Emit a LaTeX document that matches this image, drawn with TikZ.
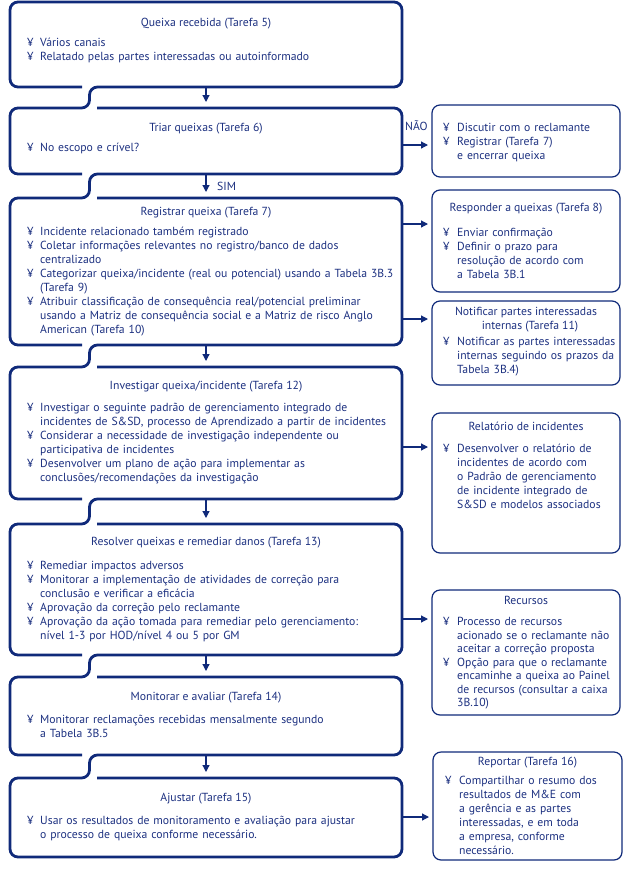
\documentclass[tikz,border=0pt]{standalone}
\usepackage{fontspec}
\setmainfont{PT Sans}
\usetikzlibrary{calc,arrows.meta}
\definecolor{navy}{RGB}{16,42,122}
\definecolor{ink}{RGB}{28,48,128}
\newcommand{\bl}[1]{\noindent\hangindent=13pt\hangafter=1\hbox to 13pt{¥\hfil}#1\par}
\newcommand{\blr}[1]{\noindent\hangindent=14pt\hangafter=1\hbox to 14pt{¥\hfil}#1\par}
\tikzset{
  lbox/.style={rectangle, minimum width=392pt, inner sep=0pt, outer sep=0pt},
  rbox/.style={rectangle, draw=navy, line width=1.2pt, rounded corners=8pt, inner sep=0pt, outer sep=0pt},
  frame/.style={draw=navy, line width=2.8pt, rounded corners=8pt},
  ttl/.style={text=ink, font=\fontsize{11.7}{14}\selectfont, inner sep=0pt, anchor=mid},
  body/.style={text=ink, font=\fontsize{11.7}{14}\selectfont, inner sep=0pt, anchor=mid west, text width=#1},
  arr/.style={draw=navy, line width=1.2pt, -{Triangle[length=7pt,width=7pt]}},
  lbl/.style={text=ink, font=\fontsize{11.7}{14}\selectfont, inner sep=0pt, anchor=mid west},
}
\begin{document}
\begin{tikzpicture}[x=1pt,y=-1pt]
\useasboundingbox (0,0) rectangle (631,892);
% left boxes
\node[lbox, minimum height=85pt]  (b1) at (206,44.5) {};
\node[lbox, minimum height=66pt]  (b2) at (206,141) {};
\node[lbox, minimum height=147pt] (b3) at (206,271.5) {};
\node[lbox, minimum height=132pt] (b4) at (206,433) {};
\node[lbox, minimum height=131pt] (b5) at (206,589.5) {};
\node[lbox, minimum height=78pt]  (b6) at (206,716) {};
\node[lbox, minimum height=79pt]  (b7) at (206,817.5) {};
% frames
\draw[frame] ($(b1.south west)+(72,0)$) -- (b1.south west) -- (b1.north west) -- (b1.north east) -- (b1.south east)
  -- ($(b1.south west)+(79.5,0)$) -- ($(b2.north west)+(79.5,0)$) -- (b2.north west) -- (b2.south west) -- ($(b2.south west)+(72,0)$);
\foreach \i/\j in {b2/b3,b3/b4,b4/b5,b5/b6}{
\draw[frame] ($(\i.north west)+(87,0)$) -- (\i.north east) -- (\i.south east)
  -- ($(\i.south west)+(79.5,0)$) -- ($(\j.north west)+(79.5,0)$) -- (\j.north west) -- (\j.south west) -- ($(\j.south west)+(72,0)$);
}
\draw[frame] ($(b6.north west)+(87,0)$) -- (b6.north east) -- (b6.south east)
  -- ($(b6.south west)+(79.5,0)$) -- ($(b7.north west)+(79.5,0)$) -- (b7.north west) -- (b7.south west) -- (b7.south east) -- (b7.north east) -- ($(b7.north west)+(87,0)$);
% right boxes
\node[rbox, minimum width=188pt, minimum height=72pt]  (r1) at (526,141) {};
\node[rbox, minimum width=188pt, minimum height=102pt] (r2) at (526,241) {};
\node[rbox, minimum width=188pt, minimum height=84pt]  (r3) at (526,343) {};
\node[rbox, minimum width=188pt, minimum height=140pt] (r4) at (526,483) {};
\node[rbox, minimum width=188pt, minimum height=125pt] (r5) at (526,652.5) {};
\node[rbox, minimum width=189pt, minimum height=108pt] (r6) at (527.5,806) {};
% left texts
\node[ttl] (t1) at (206,24) {Queixa recebida (Tarefa 5)};
\node[body=385pt] (c1) at (27,44) {\bl{Vários canais}\bl{Relatado pelas partes interessadas ou autoinformado}};
\node[ttl] (t2) at (206,129) {Triar queixas (Tarefa 6)};
\node[body=385pt] (c2) at (27,149) {\bl{No escopo e crível?}};
\node[ttl] (t3) at (206,213) {Registrar queixa (Tarefa 7)};
\node[body=385pt] (c3) at (27,232.7) {\bl{Incidente relacionado também registrado}%
\bl{Coletar informações relevantes no registro/banco de dados\newline centralizado}%
\bl{Categorizar queixa/incidente (real ou potencial) usando a Tabela 3B.3\newline (Tarefa 9)}%
\bl{Atribuir classificação de consequência real/potencial preliminar\newline usando a Matriz de consequência social e a Matriz de risco Anglo\newline American (Tarefa 10)}};
\node[ttl] (t4) at (206,387) {Investigar queixa/incidente (Tarefa 12)};
\node[body=385pt] (c4) at (27,409) {\bl{Investigar o seguinte padrão de gerenciamento integrado de\newline incidentes de S\&SD, processo de Aprendizado a partir de incidentes}%
\bl{Considerar a necessidade de investigação independente ou\newline participativa de incidentes}%
\bl{Desenvolver um plano de ação para implementar as\newline conclusões/recomendações da investigação}};
\node[ttl] (t5) at (206,543) {Resolver queixas e remediar danos (Tarefa 13)};
\node[body=385pt] (c5) at (27,567) {\bl{Remediar impactos adversos}%
\bl{Monitorar a implementação de atividades de correção para\newline conclusão e verificar a eficácia}%
\bl{Aprovação da correção pelo reclamante}%
\bl{Aprovação da ação tomada para remediar pelo gerenciamento:\newline nível 1-3 por HOD/nível 4 ou 5 por GM}};
\node[ttl] (t6) at (206,698) {Monitorar e avaliar (Tarefa 14)};
\node[body=385pt] (c6) at (27,721) {\bl{Monitorar reclamações recebidas mensalmente segundo\newline a Tabela 3B.5}};
\node[ttl] (t7) at (206,799) {Ajustar (Tarefa 15)};
\node[body=385pt] (c7) at (27,822) {\bl{Usar os resultados de monitoramento e avaliação para ajustar\newline o processo de queixa conforme necessário.}};
% right texts
\node[body=178pt] (rc1) at (443,129) {\blr{Discutir com o reclamante}\blr{Registrar (Tarefa 7)\newline e encerrar queixa}};
\node[ttl] (rt2) at (526,209) {Responder a queixas (Tarefa 8)};
\node[body=178pt] (rc2) at (443,234) {\blr{Enviar confirmação}\blr{Definir o prazo para\newline resolução de acordo com\newline a Tabela 3B.1}};
\node[ttl] (rt3a) at (526,313) {Notificar partes interessadas};
\node[ttl] (rt3b) at (530,327) {internas (Tarefa 11)};
\node[body=178pt] (rc3) at (443,343) {\blr{Notificar as partes interessadas\newline internas seguindo os prazos da\newline Tabela 3B.4)}};
\node[ttl] (rt4) at (526,428) {Relatório de incidentes};
\node[body=178pt] (rc4) at (443,450) {\blr{Desenvolver o relatório de\newline incidentes de acordo com\newline o Padrão de gerenciamento\newline de incidente integrado de\newline S\&SD e modelos associados}};
\node[ttl] (rt5) at (526,602) {Recursos};
\node[body=178pt, font=\fontsize{11.7}{13.5}\selectfont] (rc5) at (443,623) {\blr{Processo de recursos\newline acionado se o reclamante não\newline aceitar a correção proposta}\blr{Opção para que o reclamante\newline encaminhe a queixa ao Painel\newline de recursos (consultar a caixa\newline 3B.10)}};
\node[ttl] (rt6) at (527.5,763) {Reportar (Tarefa 16)};
\node[body=178pt] (rc6) at (445,782) {\blr{Compartilhar o resumo dos\newline resultados de M\&E com\newline a gerência e as partes\newline interessadas, e em toda\newline a empresa, conforme\newline necessário.}};
% labels
\node[lbl] (no) at (405,128) {NÃO};
\node[lbl] (sim) at (217,188) {SIM};
% down arrows
\foreach \a/\b in {b1/b2,b2/b3,b3/b4,b4/b5,b5/b6,b6/b7}{
  \draw[arr, shorten >=6pt] (\a.south) -- (\b.north);
}
% right arrows
\draw[arr, shorten >=4pt] (b2.east |- 0,145) -- (r1.west |- 0,145);
\draw[arr, shorten >=4pt] (b3.east |- 0,224) -- (r2.west |- 0,224);
\draw[arr, shorten >=4pt] (b3.east |- 0,319) -- (r3.west |- 0,319);
\draw[arr, shorten >=4pt] (b4.east |- 0,447) -- (r4.west |- 0,447);
\draw[arr, shorten >=4pt] (b5.east |- 0,619) -- (r5.west |- 0,619);
\draw[arr, shorten >=4pt] (b7.east |- 0,817) -- (r6.west |- 0,817);
\end{tikzpicture}
\end{document}
